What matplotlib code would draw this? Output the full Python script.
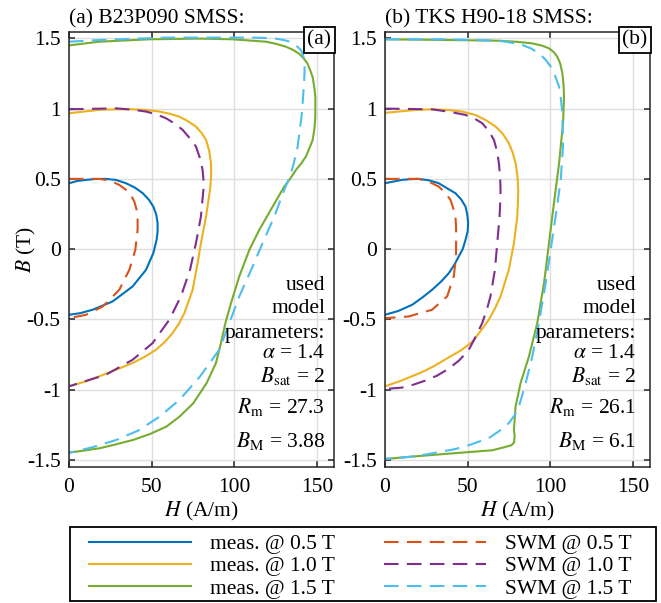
import matplotlib
matplotlib.use("Agg")
import matplotlib.pyplot as plt
from matplotlib.patches import Rectangle

plt.rcParams['font.family'] = ['Liberation Serif', 'DejaVu Serif']
plt.rcParams['mathtext.fontset'] = 'stix'
plt.rcParams['font.size'] = 15.5

# MATLAB default colours
c_blue, c_orange, c_yellow = '#0072BD', '#D95319', '#EDB120'
c_purple, c_green, c_cyan = '#7E2F8E', '#77AC30', '#4DBEEE'

# ---- (a) B23P090 SMSS ----
a_meas05_H = [0, 5, 10.3, 16, 22.4, 28.5, 34.5, 40, 44.6, 48.3, 51, 52.8, 53.6, 53.6, 53,
              51, 46.6, 38.5, 26.4, 14.3, 7, 0]
a_meas05_B = [0.469, 0.485, 0.493, 0.499, 0.5, 0.492, 0.469, 0.437, 0.398, 0.352, 0.303,
              0.245, 0.185, 0.125, 0.066, -0.028, -0.147, -0.265, -0.372, -0.431, -0.455,
              -0.467]
a_swm05_H = [0, 18.3, 25, 30.4, 34.5, 37.5, 39.6, 40.9, 41.5, 41.5, 40.1, 36.5, 30.4, 25,
             20.4, 10.3, 0]
a_swm05_B = [0.5, 0.5, 0.487, 0.457, 0.422, 0.386, 0.335, 0.28, 0.21, 0.137, -0.005,
             -0.147, -0.289, -0.355, -0.408, -0.467, -0.491]
a_meas10_H = [0, 18.3, 28, 38.5, 47, 54.6, 61, 66.7, 72, 76.8, 80.3, 82.9, 84.8, 85.9, 86,
              85.3, 82.9, 79.8, 77.8, 74.8, 69.8, 66.5, 62.7, 58, 52.6, 46, 38.5, 28,
              18.3, 9, 0]
a_meas10_B = [0.967, 0.991, 0.995, 0.995, 0.99, 0.979, 0.963, 0.943, 0.91, 0.872, 0.825,
              0.777, 0.7, 0.611, 0.52, 0.422, 0.232, 0.043, -0.1, -0.289, -0.455, -0.53,
              -0.597, -0.66, -0.716, -0.765, -0.81, -0.86, -0.905, -0.945, -0.976]
a_swm10_H = [0, 28.4, 38, 46.6, 53, 58.7, 64, 68.8, 73, 76.8, 79.3, 80.8, 81.3, 81.3,
             79.8, 76.8, 73.2, 67.7, 60.7, 50.6, 38.5, 22.4, 0]
a_swm10_B = [0.995, 1.002, 0.993, 0.979, 0.958, 0.931, 0.893, 0.848, 0.79, 0.73, 0.645,
             0.564, 0.5, 0.422, 0.232, 0.043, -0.147, -0.336, -0.502, -0.668, -0.787,
             -0.893, -0.976]
a_meas15_H = [0, 18.3, 48.6, 78.8, 99, 119.2, 125.5, 131.3, 135.5, 139.3, 142, 144.4,
              146, 147.4, 148.4, 149, 149, 148.5, 147.4, 145.5, 143.3, 140.5, 137.3, 134,
              130.2, 123.2, 115.1, 109.1, 103, 98, 94.6, 91.9, 88.9, 83.2, 75.2, 67, 59,
              49, 38.9, 28, 18.7, 8, 0]
a_meas15_B = [1.45, 1.476, 1.493, 1.498, 1.493, 1.476, 1.46, 1.44, 1.418, 1.39, 1.357,
              1.318, 1.27, 1.223, 1.15, 1.081, 0.943, 0.86, 0.777, 0.72, 0.659, 0.61,
              0.564, 0.505, 0.445, 0.303, 0.137, -0.005, -0.194, -0.384, -0.526, -0.668,
              -0.81, -0.954, -1.096, -1.19, -1.262, -1.315, -1.357, -1.39, -1.416,
              -1.435, -1.447]
a_swm15_H = [0, 18.3, 58.7, 99, 111, 118, 124, 129, 132.5, 135.3, 138, 140.3, 141.5,
             142.3, 142.5, 142.3, 140.9, 138.3, 136.8, 134.9, 133, 130.2, 124.2, 117.1,
             111.1, 103, 97, 90.9, 79.2, 67, 55, 42, 28.7, 14, 0]
a_swm15_B = [1.476, 1.488, 1.505, 1.505, 1.505, 1.503, 1.5, 1.49, 1.48, 1.464, 1.442,
             1.417, 1.385, 1.346, 1.28, 1.204, 0.967, 0.73, 0.65, 0.564, 0.5, 0.422,
             0.232, 0.043, -0.123, -0.336, -0.526, -0.716, -0.907, -1.07, -1.19, -1.29,
             -1.357, -1.41, -1.45]

# ---- (b) TKS H90-18 SMSS ----
b_meas05_H = [0, 10.3, 15.5, 20.4, 26.5, 32.5, 38, 42.6, 46, 48.7, 49.8, 50.3, 50, 48.7,
              47, 44.6, 42, 38.6, 34, 28.5, 22.5, 16.4, 8, 0]
b_meas05_B = [0.469, 0.493, 0.498, 0.5, 0.49, 0.469, 0.43, 0.398, 0.355, 0.303, 0.245,
              0.185, 0.125, 0.066, 0.0, -0.052, -0.11, -0.171, -0.23, -0.289, -0.345,
              -0.396, -0.44, -0.467]
b_swm05_H = [0, 20.4, 26.5, 32.5, 36.5, 39.6, 41.3, 42.6, 43, 43, 43, 41.6, 37.6, 28.5,
             14.3, 0]
b_swm05_B = [0.5, 0.5, 0.48, 0.445, 0.4, 0.351, 0.29, 0.232, 0.16, 0.09, -0.052, -0.194,
             -0.336, -0.431, -0.479, -0.491]
b_meas10_H = [0, 18.4, 28, 38.6, 47, 54.7, 61, 66.9, 71.3, 74.9, 77.3, 79, 80.1, 80.6,
              80.4, 80, 78, 74.9, 69.9, 66.6, 62.8, 58, 52.7, 46, 38.6, 30, 22.4, 10, 0]
b_meas10_B = [0.97, 0.99, 0.995, 0.99, 0.978, 0.955, 0.918, 0.872, 0.82, 0.754, 0.685,
              0.611, 0.52, 0.422, 0.33, 0.232, 0.043, -0.147, -0.336, -0.42, -0.502,
              -0.58, -0.66, -0.72, -0.77, -0.83, -0.875, -0.935, -0.976]
b_swm10_H = [0, 28.5, 40, 48.7, 54, 58.8, 62.8, 65.9, 67.8, 68.9, 69.6, 69.9, 69.7, 69.3,
             67.9, 66.5, 63.8, 61.6, 58.8, 55, 50.7, 45, 38.6, 31.5, 24.4, 17, 10.3, 0]
b_swm10_B = [1.0, 0.995, 0.975, 0.955, 0.93, 0.896, 0.84, 0.777, 0.695, 0.611, 0.52,
             0.422, 0.33, 0.232, 0.043, -0.147, -0.336, -0.43, -0.526, -0.62, -0.716,
             -0.79, -0.85, -0.9, -0.935, -0.965, -0.985, -0.995]
b_meas15_H = [0, 38.6, 68.9, 80, 89.1, 95, 99.2, 102, 104.2, 106, 107.3, 108, 108.3,
              107.7, 105.3, 102.2, 99.2, 96.2, 92.1, 87.1, 82, 79, 78, 78.4, 78.1, 76.5,
              72, 64.8, 38.6, 18.4, 0]
b_meas15_B = [1.493, 1.488, 1.483, 1.475, 1.464, 1.448, 1.429, 1.403, 1.37, 1.32, 1.251,
              1.17, 1.085, 0.896, 0.611, 0.327, 0.043, -0.242, -0.526, -0.763, -0.953,
              -1.118, -1.284, -1.33, -1.375, -1.395, -1.41, -1.431, -1.455, -1.474,
              -1.493]
b_swm15_H = [0, 38.6, 68.9, 76, 83, 88.5, 93.1, 97, 100.2, 103, 105.3, 106.5, 107.3,
             107.7, 106.3, 103.2, 100.2, 97.2, 93.1, 89.1, 85.1, 83, 81, 78.5, 75, 69,
             62.8, 52, 42.6, 30, 18.4, 0]
b_swm15_B = [1.493, 1.493, 1.483, 1.47, 1.453, 1.427, 1.393, 1.35, 1.299, 1.23, 1.156,
             1.06, 0.967, 0.73, 0.493, 0.232, -0.005, -0.242, -0.526, -0.763, -0.953,
             -1.04, -1.118, -1.18, -1.237, -1.295, -1.344, -1.39, -1.422, -1.45, -1.474,
             -1.493]

titles = ['(a) B23P090 SMSS:', '(b) TKS H90-18 SMSS:']
panel_tags = ['(a)', '(b)']
Rm_values = ['27.3', '26.1']
BM_values = ['3.88', '6.1']
legend_labels = ['meas. @ 0.5 T', 'meas. @ 1.0 T', 'meas. @ 1.5 T',
                 'SWM @ 0.5 T', 'SWM @ 1.0 T', 'SWM @ 1.5 T']

panels = [
    [(a_meas05_H, a_meas05_B), (a_meas10_H, a_meas10_B), (a_meas15_H, a_meas15_B),
     (a_swm05_H, a_swm05_B), (a_swm10_H, a_swm10_B), (a_swm15_H, a_swm15_B)],
    [(b_meas05_H, b_meas05_B), (b_meas10_H, b_meas10_B), (b_meas15_H, b_meas15_B),
     (b_swm05_H, b_swm05_B), (b_swm10_H, b_swm10_B), (b_swm15_H, b_swm15_B)],
]
colors = [c_blue, c_yellow, c_green, c_orange, c_purple, c_cyan]
styles = ['-', '-', '-', '--', '--', '--']

W, H = 661, 603
fig = plt.figure(figsize=(W / 100, H / 100), dpi=100)
ax_lefts = [69, 385]

handles = []
for k, curves in enumerate(panels):
    ax = fig.add_axes([ax_lefts[k] / W, (H - 467) / H, 264.5 / W, 435 / H])
    for (hx, by), col, ls in zip(curves, colors, styles):
        if ls == '--':
            ln, = ax.plot(hx, by, color=col, lw=1.5, dashes=[7, 4],
                          solid_joinstyle='round', dash_joinstyle='round')
        else:
            ln, = ax.plot(hx, by, color=col, lw=1.5, solid_joinstyle='round')
        if k == 0:
            handles.append(ln)
    ax.set_xlim(0, 160)
    ax.set_ylim(-1.55, 1.545)
    ax.set_xticks([0, 50, 100, 150])
    ax.set_yticks([-1.5, -1, -0.5, 0, 0.5, 1, 1.5])
    ax.set_yticklabels(['-1.5', '-1', '-0.5', '0', '0.5', '1', '1.5'])
    ax.grid(True, color='#dedede', lw=1.0)
    ax.set_axisbelow(True)
    ax.tick_params(direction='in', top=True, right=True, length=4, width=1.1,
                   labelsize=15.5, color='#262626')
    ax.tick_params(axis='x', pad=8)
    ax.tick_params(axis='y', pad=6)
    for sp in ax.spines.values():
        sp.set_linewidth(1.1)
        sp.set_color('#262626')
    ax.set_title(titles[k], loc='left', pad=6, fontsize=15.5)
    ax.set_xlabel(r'$H$ (A/m)', labelpad=2)
    if k == 0:
        ax.set_ylabel(r'$B$ (T)')
        ax.yaxis.set_label_coords(-0.118, 0.5)
    ax.text(0.992, 1.003, panel_tags[k], transform=ax.transAxes, ha='right', va='top',
            bbox=dict(boxstyle='square,pad=0.15', fc='white', ec='black', lw=1.3))

    xr = 155 if k == 0 else 152
    lines = ['used', 'model', 'parameters:', r'$\alpha$ = 1.4', r'$B_{\rm sat}$ = 2',
             r'$R_{\rm m}$ = ' + Rm_values[k], r'$B_{\rm M}$ = ' + BM_values[k]]
    ys = [-0.291, -0.457, -0.632, -0.774, -0.943, -1.165, -1.405]
    for s, yv in zip(lines, ys):
        ax.text(xr, yv, s, ha='right', va='baseline')

# legend frame drawn separately, entries placed inside it
fig.patches.append(Rectangle((70 / W, (H - 601) / H), 586 / W, 74 / H,
                             transform=fig.transFigure, fill=False, ec='black', lw=1.3))
fig.legend(handles, legend_labels, ncol=2, loc='upper left',
           bbox_to_anchor=(89 / W, (H - 534) / H), borderaxespad=0, borderpad=0,
           frameon=False, handlelength=4.75, handletextpad=0.85, columnspacing=2.3,
           labelspacing=0.1, fontsize=15.5)

fig.savefig('out.png', dpi=100)
